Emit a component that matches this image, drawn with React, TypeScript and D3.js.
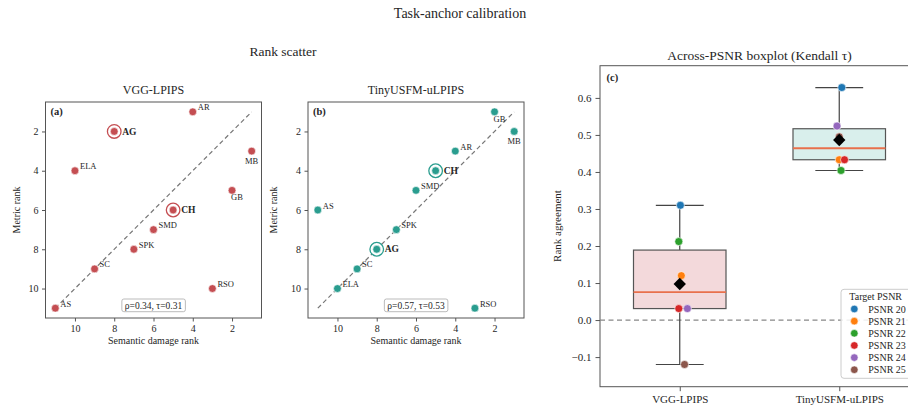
import React, { useEffect, useRef } from 'react';
import * as d3 from 'd3';

// rank scatter data (rank 1 = most damaging / highest metric)
const attacks = ['AR', 'AG', 'MB', 'ELA', 'GB', 'CH', 'SMD', 'SPK', 'SC', 'RSO', 'AS'];
const semanticRank = [4, 8, 1, 10, 2, 5, 6, 7, 9, 3, 11];
const vggRank = [1, 2, 3, 4, 5, 6, 7, 8, 9, 10, 11];
const tinyRank = [3, 8, 2, 10, 1, 4, 5, 7, 9, 11, 6];
const anchors = ['AG', 'CH'];
const rankTicks = [10, 8, 6, 4, 2];
const metricTicks = [2, 4, 6, 8, 10];

// across-PSNR kendall tau
const metrics = ['VGG-LPIPS', 'TinyUSFM-uLPIPS'];
const psnrLevels = ['PSNR 20', 'PSNR 21', 'PSNR 22', 'PSNR 23', 'PSNR 24', 'PSNR 25'];
const vggTau = [0.31, 0.12, 0.212, 0.031, 0.031, -0.12];
const tinyTau = [0.628, 0.433, 0.404, 0.433, 0.524, 0.495];
const vggJitter = [0.004, 0.01, -0.006, -0.006, 0.048, 0.03];
const tinyJitter = [0.016, 0, 0.011, 0.033, -0.014, 0];
const tauTicks = [-0.1, 0, 0.1, 0.2, 0.3, 0.4, 0.5, 0.6];

const psnrColors = ['#1f77b4', '#ff7f0e', '#2ca02c', '#d62728', '#9467bd', '#8c564b'];
const font = '"Liberation Serif", "DejaVu Serif", serif';
const ink = '#262626';
const spine = '#555';

const App = () => {
  const svgRef = useRef<SVGSVGElement>(null);

  useEffect(() => {
    const svg = d3.select(svgRef.current);
    svg.selectAll('*').remove();
    svg.attr('font-family', font);

    const styleAxis = (g: any, size: number) => {
      g.attr('font-family', font).attr('font-size', size);
      g.select('.domain').remove();
      g.selectAll('.tick line').attr('stroke', spine);
      g.selectAll('.tick text').attr('fill', ink);
    };

    // titles
    svg.append('text').attr('x', 460).attr('y', 18).attr('text-anchor', 'middle')
      .attr('font-size', 14).attr('fill', ink).text('Task-anchor calibration');
    svg.append('text').attr('x', 283).attr('y', 56).attr('text-anchor', 'middle')
      .attr('font-size', 13.5).attr('fill', ink).text('Rank scatter');

    const drawScatter = (left: number, metric: number[], color: string, title: string,
                         tag: string, stats: string, ylabX: number) => {
      const top = 102, bottom = 318;
      const x = d3.scaleLinear().domain([11.5, 0.5]).range([left, left + 216]);
      const y = d3.scaleLinear().domain([0.5, 11.5]).range([top, bottom]);
      const g = svg.append('g');

      g.append('g').attr('transform', `translate(0,${bottom})`)
        .call(d3.axisBottom(x).tickValues(rankTicks).tickSize(3.5).tickPadding(3.5))
        .call(a => styleAxis(a, 10));
      g.append('g').attr('transform', `translate(${left},0)`)
        .call(d3.axisLeft(y).tickValues(metricTicks).tickSize(3.5).tickPadding(3.5))
        .call(a => styleAxis(a, 10));

      g.append('rect').attr('x', left).attr('y', top).attr('width', 216).attr('height', bottom - top)
        .attr('fill', 'none').attr('stroke', spine).attr('stroke-width', 1);

      // y = x reference
      g.append('line')
        .attr('x1', x(11)).attr('y1', y(11)).attr('x2', x(1)).attr('y2', y(1))
        .attr('stroke', '#777').attr('stroke-width', 1.2).attr('stroke-dasharray', '4.5,3');

      const pts = attacks.map((a, i) => ({ name: a, sx: semanticRank[i], my: metric[i] }));

      g.selectAll('.ring').data(pts.filter(d => anchors.includes(d.name))).join('circle')
        .attr('cx', d => x(d.sx)).attr('cy', d => y(d.my)).attr('r', 6.8)
        .attr('fill', 'white').attr('stroke', color).attr('stroke-width', 1.3);

      g.selectAll('.pt').data(pts).join('circle')
        .attr('cx', d => x(d.sx)).attr('cy', d => y(d.my)).attr('r', 3.9)
        .attr('fill', color).attr('stroke', 'white').attr('stroke-width', 0.6);

      pts.forEach(d => {
        const px = x(d.sx), py = y(d.my);
        const bold = anchors.includes(d.name);
        let tx = px + 5, ty = py - 1.5, anchor = 'start';
        if (bold) { tx = px + 8; ty = py + 3.2; }
        else if (d.name === 'MB') { tx = px; ty = py + 13; anchor = 'middle'; }
        else if (d.name === 'GB') { tx = px - 1; ty = py + 10; }
        g.append('text').attr('x', tx).attr('y', ty).attr('text-anchor', anchor)
          .attr('font-size', bold ? 9.5 : 8.5).attr('font-weight', bold ? 'bold' : 'normal')
          .attr('fill', ink).text(d.name);
      });

      g.append('text').attr('x', left + 5).attr('y', top + 13).attr('font-size', 10.5)
        .attr('font-weight', 'bold').attr('fill', ink).text(tag);

      // correlation box
      const cx = left + 108;
      const box = g.append('rect');
      const st = g.append('text').attr('x', cx).attr('y', 308.5).attr('text-anchor', 'middle')
        .attr('font-size', 9.5).attr('fill', ink).text(stats);
      const bb = (st.node() as SVGTextElement).getBBox();
      box.attr('x', bb.x - 3).attr('y', 299).attr('width', bb.width + 6).attr('height', 12.7)
        .attr('rx', 2).attr('fill', 'white').attr('stroke', '#aaa').attr('stroke-width', 0.8);

      g.append('text').attr('x', left + 108).attr('y', 94).attr('text-anchor', 'middle')
        .attr('font-size', 12).attr('fill', ink).text(title);
      g.append('text').attr('x', left + 108).attr('y', 344).attr('text-anchor', 'middle')
        .attr('font-size', 10).attr('fill', ink).text('Semantic damage rank');
      g.append('text').attr('transform', `translate(${ylabX},210) rotate(-90)`)
        .attr('text-anchor', 'middle').attr('font-size', 10).attr('fill', ink).text('Metric rank');
    };

    drawScatter(45.5, vggRank, '#c44e52', 'VGG-LPIPS', '(a)', 'ρ=0.34, τ=0.31', 20);
    drawScatter(308, tinyRank, '#2a9d8f', 'TinyUSFM-uLPIPS', '(b)', 'ρ=0.57, τ=0.53', 276.5);

    // ---- boxplot panel ----
    const cTop = 65.7, cBottom = 386.7, cLeft = 600;
    const x = d3.scaleLinear().domain([-0.5, 1.5]).range([cLeft, 919]);
    const y = d3.scaleLinear().domain([-0.18, 0.687]).range([cBottom, cTop]);
    const c = svg.append('g');

    c.append('g').attr('transform', `translate(0,${cBottom})`)
      .call(d3.axisBottom(x).tickValues([0, 1]).tickFormat((d: any) => metrics[d]).tickSize(4.5).tickPadding(4))
      .call(a => styleAxis(a, 11));
    c.append('g').attr('transform', `translate(${cLeft},0)`)
      .call(d3.axisLeft(y).tickValues(tauTicks).tickFormat((d: any) => d3.format('.1f')(d).replace('-', '\u2212')).tickSize(4.5).tickPadding(4))
      .call(a => styleAxis(a, 11));

    c.append('rect').attr('x', cLeft).attr('y', cTop).attr('width', 919 - cLeft).attr('height', cBottom - cTop)
      .attr('fill', 'none').attr('stroke', spine).attr('stroke-width', 1);

    c.append('line').attr('x1', cLeft).attr('x2', 919).attr('y1', y(0)).attr('y2', y(0))
      .attr('stroke', '#888').attr('stroke-width', 1.2).attr('stroke-dasharray', '5,3.5');

    const groups = [
      { vals: vggTau, jit: vggJitter, fill: '#f3d9db' },
      { vals: tinyTau, jit: tinyJitter, fill: '#d9efec' },
    ];

    groups.forEach((grp, gi) => {
      const s = [...grp.vals].sort(d3.ascending);
      const q1 = d3.quantile(s, 0.25) as number;
      const med = d3.quantile(s, 0.5) as number;
      const q3 = d3.quantile(s, 0.75) as number;
      const iqr = q3 - q1;
      const lo = d3.min(s.filter(v => v >= q1 - 1.5 * iqr)) as number;
      const hi = d3.max(s.filter(v => v <= q3 + 1.5 * iqr)) as number;
      const mean = d3.mean(s) as number;
      const cxp = x(gi);
      const half = (x(0.29) - x(0));
      const cap = (x(0.15) - x(0));

      c.append('line').attr('x1', cxp).attr('x2', cxp).attr('y1', y(q3)).attr('y2', y(hi))
        .attr('stroke', '#444').attr('stroke-width', 1.2);
      c.append('line').attr('x1', cxp).attr('x2', cxp).attr('y1', y(q1)).attr('y2', y(lo))
        .attr('stroke', '#444').attr('stroke-width', 1.2);
      [hi, lo].forEach(v => {
        c.append('line').attr('x1', cxp - cap).attr('x2', cxp + cap).attr('y1', y(v)).attr('y2', y(v))
          .attr('stroke', '#444').attr('stroke-width', 1.2);
      });
      c.append('rect').attr('x', cxp - half).attr('y', y(q3)).attr('width', 2 * half)
        .attr('height', y(q1) - y(q3)).attr('fill', grp.fill).attr('stroke', spine).attr('stroke-width', 1.2);
      c.append('line').attr('x1', cxp - half).attr('x2', cxp + half).attr('y1', y(med)).attr('y2', y(med))
        .attr('stroke', '#e8704c').attr('stroke-width', 1.8);

      grp.vals.forEach((v, i) => {
        c.append('circle').attr('cx', x(gi + grp.jit[i])).attr('cy', y(v)).attr('r', 4)
          .attr('fill', psnrColors[i]).attr('stroke', 'white').attr('stroke-width', 0.6);
      });

      const dm = 6.2;
      c.append('path')
        .attr('d', `M${cxp},${y(mean) - dm}L${cxp + dm},${y(mean)}L${cxp},${y(mean) + dm}L${cxp - dm},${y(mean)}Z`)
        .attr('fill', 'black');
    });

    c.append('text').attr('x', cLeft + 6.5).attr('y', 80.5).attr('font-size', 10.5)
      .attr('font-weight', 'bold').attr('fill', ink).text('(c)');
    c.append('text').attr('x', 759.5).attr('y', 60).attr('text-anchor', 'middle')
      .attr('font-size', 13.5).attr('fill', ink).text('Across-PSNR boxplot (Kendall τ)');
    c.append('text').attr('transform', `translate(561,226) rotate(-90)`)
      .attr('text-anchor', 'middle').attr('font-size', 11).attr('fill', ink).text('Rank agreement');

    // legend
    const lg = c.append('g');
    lg.append('rect').attr('x', 841).attr('y', 289.3).attr('width', 90).attr('height', 89)
      .attr('rx', 3).attr('fill', 'white').attr('fill-opacity', 0.85).attr('stroke', '#ccc');
    lg.append('text').attr('x', 849.3).attr('y', 300.3).attr('font-size', 10).attr('fill', ink).text('Target PSNR');
    psnrLevels.forEach((p, i) => {
      const ry = 309 + i * 12.15;
      lg.append('circle').attr('cx', 854.3).attr('cy', ry).attr('r', 3.8)
        .attr('fill', psnrColors[i]).attr('stroke', 'white').attr('stroke-width', 0.6);
      lg.append('text').attr('x', 868.3).attr('y', ry + 3.5).attr('font-size', 10).attr('fill', ink).text(p);
    });
  }, []);

  return (
    <svg ref={svgRef} width={908} height={410}
      style={{ position: 'absolute', left: 0, top: 0, background: '#fff' }} />
  );
};

export default App;
